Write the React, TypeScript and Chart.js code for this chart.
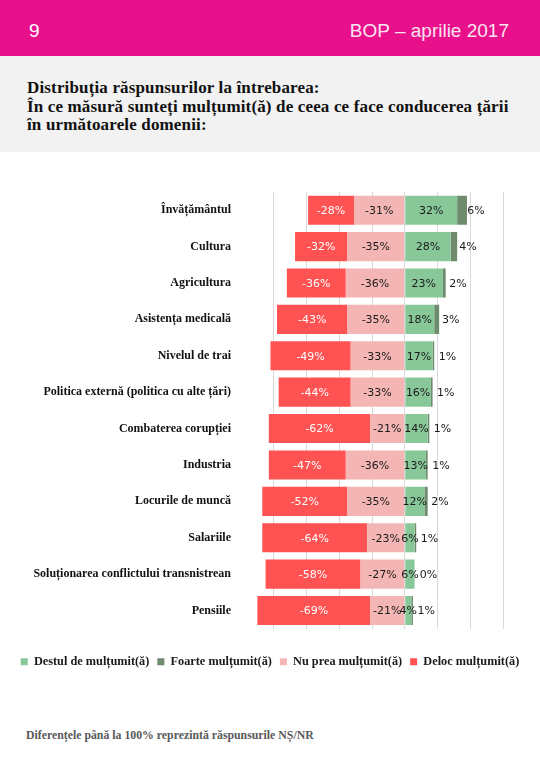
import React, { useEffect, useRef } from "react";
import { Chart, registerables } from "chart.js";

Chart.register(...registerables);

const categories = [
  "Învățământul",
  "Cultura",
  "Agricultura",
  "Asistența medicală",
  "Nivelul de trai",
  "Politica externă (politica cu alte țări)",
  "Combaterea corupției",
  "Industria",
  "Locurile de muncă",
  "Salariile",
  "Soluționarea conflictului transnistrean",
  "Pensiile",
];

const destulMultumit = [32, 28, 23, 18, 17, 16, 14, 13, 12, 6, 6, 4];
const foarteMultumit = [6, 4, 2, 3, 1, 1, 1, 1, 2, 1, 0, 1];
const nuPreaMultumit = [-31, -35, -36, -35, -33, -33, -21, -36, -35, -23, -27, -21];
const delocMultumit = [-28, -32, -36, -43, -49, -44, -62, -47, -52, -64, -58, -69];

const seriesLabels = [
  "Destul de mulțumit(ă)",
  "Foarte mulțumit(ă)",
  "Nu prea mulțumit(ă)",
  "Deloc mulțumit(ă)",
];
const seriesColors = ["#88C898", "#6E8B6E", "#F4B6B4", "#FF5252"];

const xMin = -100;
const xMax = 60;
const xStep = 20;

const labelPlugin = {
  id: "segmentLabels",
  afterDatasetsDraw(chart: any) {
    const ctx = chart.ctx;
    ctx.save();
    ctx.font = "11px 'DejaVu Sans'";
    ctx.textAlign = "center";
    ctx.textBaseline = "middle";
    chart.data.datasets.forEach((ds: any, i: number) => {
      const meta = chart.getDatasetMeta(i);
      meta.data.forEach((bar: any, j: number) => {
        const v = ds.data[j];
        const cx = (bar.x + bar.base) / 2;
        let x = cx;
        if (i === 1) x = cx + 14;
        ctx.fillStyle = i === 3 ? "#ffffff" : "#1a1a1a";
        ctx.fillText(v + "%", x, bar.y + 1);
      });
    });
    ctx.restore();
  },
};

function BarChart() {
  const ref = useRef<HTMLCanvasElement | null>(null);
  useEffect(() => {
    if (!ref.current) return;
    const chart = new Chart(ref.current, {
      type: "bar",
      data: {
        labels: categories,
        datasets: [destulMultumit, foarteMultumit, nuPreaMultumit, delocMultumit].map((d, i) => ({
          label: seriesLabels[i],
          data: d,
          backgroundColor: seriesColors[i],
          borderWidth: 0,
          barPercentage: 0.8,
          categoryPercentage: 1,
        })),
      },
      options: {
        indexAxis: "y",
        responsive: false,
        animation: false,
        devicePixelRatio: 1,
        layout: { padding: { top: 22, right: 0, left: 0, bottom: 12 } },
        plugins: {
          tooltip: { enabled: false },
          legend: {
            position: "bottom",
            labels: {
              boxWidth: 7,
              boxHeight: 7,
              padding: 8,
              color: "#1a1a1a",
              font: { family: "'Liberation Serif'", size: 12.3, weight: "bold" },
            },
          },
        },
        scales: {
          x: {
            stacked: true,
            min: xMin,
            max: xMax,
            ticks: { display: false, stepSize: xStep },
            grid: {
              drawTicks: false,
              color: (c: any) => (c.tick && c.tick.value === xMin ? "rgba(0,0,0,0)" : "#D9D9D9"),
              lineWidth: 1,
            },
            border: { display: false },
            afterFit: (s: any) => {
              s.height = 19;
            },
          },
          y: {
            stacked: true,
            grid: { display: false, drawTicks: false },
            border: { display: false },
            ticks: {
              padding: 10,
              color: "#111",
              font: { family: "'Liberation Serif'", size: 12, weight: "bold" },
            },
            afterFit: (s: any) => {
              s.width = 241;
            },
          },
          yRight: {
            type: "category",
            position: "right",
            labels: categories,
            grid: { display: false, drawTicks: false },
            border: { display: false },
            ticks: { display: false },
            afterFit: (s: any) => {
              s.width = 37;
            },
          },
        },
      },
      plugins: [labelPlugin],
    });
    return () => chart.destroy();
  }, []);
  return (
    <canvas
      ref={ref}
      width={540}
      height={520}
      style={{ position: "absolute", left: 0, top: 170, width: 540, height: 520 }}
    />
  );
}

export default function App() {
  return (
    <div
      style={{
        position: "absolute",
        left: 0,
        top: 0,
        width: 540,
        height: 780,
        background: "#ffffff",
        overflow: "hidden",
      }}
    >
      <div
        style={{
          position: "absolute",
          left: 0,
          top: 0,
          width: 540,
          height: 56,
          background: "#E8118B",
          color: "#fff",
          fontFamily: "'Liberation Sans', Arial, sans-serif",
          fontSize: 19,
        }}
      >
        <span style={{ position: "absolute", left: 29, top: 20 }}>9</span>
        <span style={{ position: "absolute", right: 31, top: 20, color: "#FBE3F0" }}>BOP – aprilie 2017</span>
      </div>
      <div
        style={{
          position: "absolute",
          left: 0,
          top: 56,
          width: 540,
          height: 96,
          background: "#F2F2F2",
        }}
      >
        <div
          style={{
            position: "absolute",
            left: 27,
            top: 23,
            fontFamily: "'Liberation Serif', serif",
            fontWeight: "bold",
            fontSize: 17,
            letterSpacing: "0.15px",
            lineHeight: "18.5px",
            color: "#111",
            whiteSpace: "nowrap",
          }}
        >
          Distribuția răspunsurilor la întrebarea:
          <br />
          În ce măsură sunteți mulțumit(ă) de ceea ce face conducerea țării
          <br />
          în următoarele domenii:
        </div>
      </div>
      <BarChart />
      <div
        style={{
          position: "absolute",
          left: 26,
          top: 728,
          fontFamily: "'Liberation Serif', serif",
          fontWeight: "bold",
          fontSize: 11.8,
          color: "#595959",
          whiteSpace: "nowrap",
        }}
      >
        Diferențele până la 100% reprezintă răspunsurile NȘ/NR
      </div>
    </div>
  );
}
